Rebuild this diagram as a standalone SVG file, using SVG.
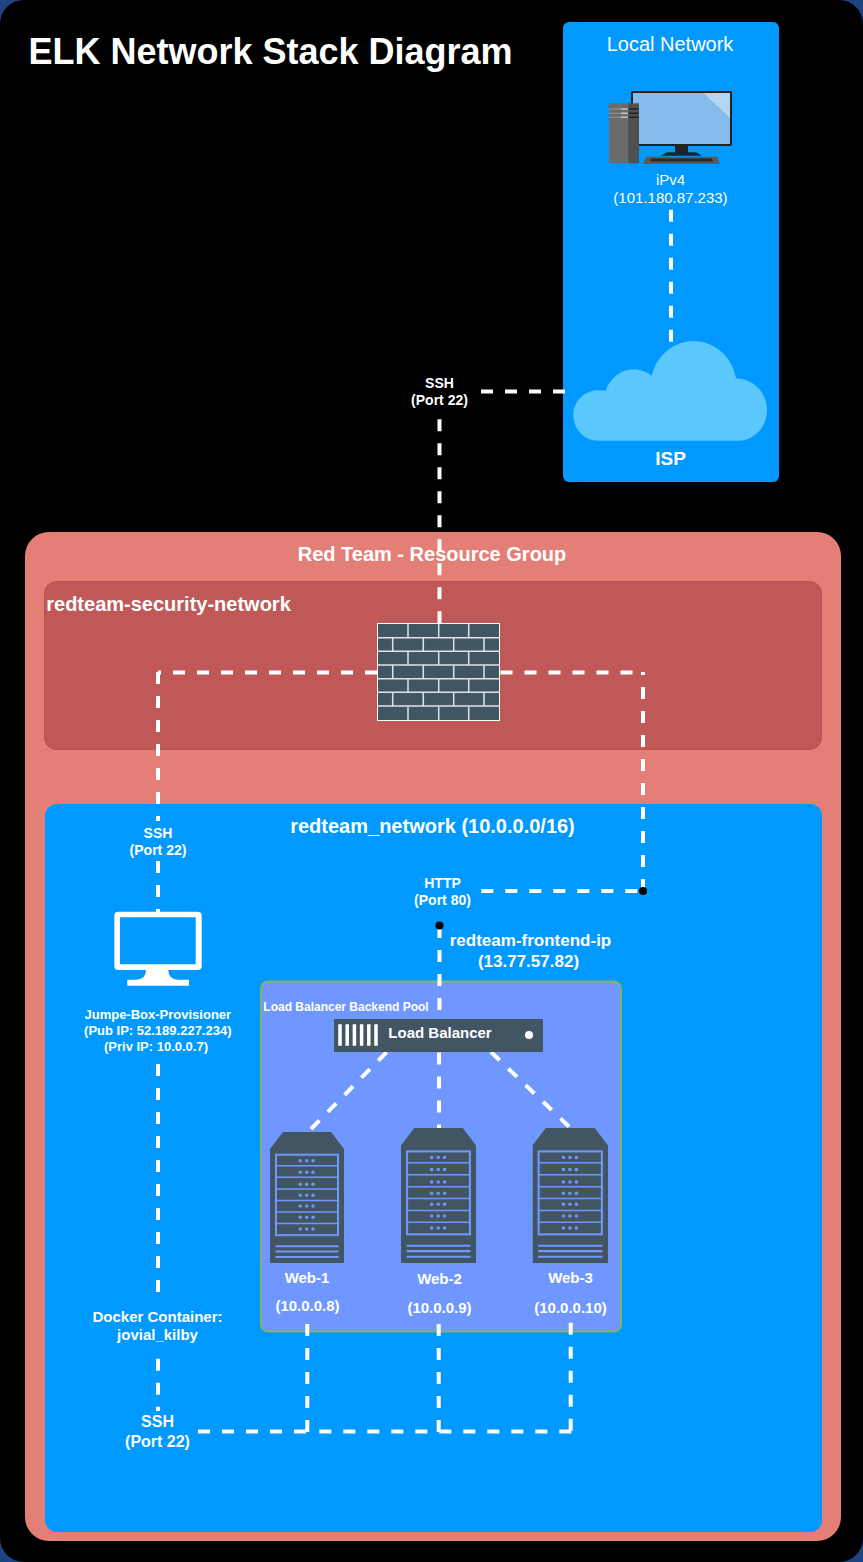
<svg xmlns="http://www.w3.org/2000/svg" width="863" height="1562" viewBox="0 0 863 1562">
<style>
text{font-family:"Liberation Sans",Arial,sans-serif;fill:#fff;text-anchor:middle}
.b{font-weight:bold}
.dash{fill:none;stroke:#fff;stroke-width:4;stroke-dasharray:12 12}
.dot{fill:#000}
</style>
<defs>
<symbol id="srv" viewBox="0 0 74 131" preserveAspectRatio="none">
<path d="M0 17L13 0H61L74 17V131H0Z" fill="#425563"/>
<rect x="6" y="22.700" width="62" height="80.500" fill="none" stroke="#7097ff" stroke-width="2"/>
<path d="M6 33.700H68M6 45.300H68M6 57H68M6 68.500H68M6 80H68M6 91.500H68" fill="none" stroke="#7097ff" stroke-width="1.500"/>
<path d="M5.500 114.300H68.500M5.500 119.500H68.500M5.500 125H68.500" stroke="#7097ff" stroke-width="2"/>
<g fill="#7097ff">
<circle cx="30.300" cy="28.700" r="1.700"/><circle cx="36.700" cy="28.700" r="1.700"/><circle cx="43" cy="28.700" r="1.700"/>
<circle cx="30.300" cy="40.300" r="1.700"/><circle cx="36.700" cy="40.300" r="1.700"/><circle cx="43" cy="40.300" r="1.700"/>
<circle cx="30.300" cy="52.300" r="1.700"/><circle cx="36.700" cy="52.300" r="1.700"/><circle cx="43" cy="52.300" r="1.700"/>
<circle cx="30.300" cy="63.300" r="1.700"/><circle cx="36.700" cy="63.300" r="1.700"/><circle cx="43" cy="63.300" r="1.700"/>
<circle cx="30.300" cy="74" r="1.700"/><circle cx="36.700" cy="74" r="1.700"/><circle cx="43" cy="74" r="1.700"/>
<circle cx="30.300" cy="85.300" r="1.700"/><circle cx="36.700" cy="85.300" r="1.700"/><circle cx="43" cy="85.300" r="1.700"/>
<circle cx="30.300" cy="97" r="1.700"/><circle cx="36.700" cy="97" r="1.700"/><circle cx="43" cy="97" r="1.700"/>
</g>
</symbol>
</defs>
<rect width="863" height="1562" fill="#1d4380"/>
<rect id="background" x="0" y="0" width="863" height="1562" rx="24" fill="#000"/>
<text class="b" x="270.500" y="64" font-size="36">ELK Network Stack Diagram</text>
<g id="local-network">
<rect x="563" y="22" width="216" height="460" rx="6" fill="#0099ff"/>
<text x="670" y="51" font-size="20">Local Network</text>
</g>
<g id="resource-group">
<rect x="25" y="532" width="816" height="1009" rx="24" fill="#e47f77"/>
<text class="b" x="432" y="561" font-size="20">Red Team - Resource Group</text>
</g>
<g id="security-network">
<rect x="44.500" y="581.500" width="777" height="168" rx="12" fill="#c05858" stroke="#b85050"/>
<text class="b" x="168.500" y="611" font-size="20">redteam-security-network</text>
</g>
<g id="redteam-network">
<rect x="45" y="804" width="777" height="728" rx="12" fill="#0099ff"/>
<text class="b" x="432.500" y="833" font-size="20">redteam_network (10.0.0.0/16)</text>
</g>
<g id="backend-pool">
<rect x="261" y="981.500" width="360" height="350" rx="7" fill="#7097ff" stroke="#82b366" stroke-width="2"/>
<text class="b" x="346" y="1011" font-size="12">Load Balancer Backend Pool</text>
</g>
<g id="connectors">
<path class="dash" d="M671 209.700V342"/>
<path class="dash" d="M565 391.500H481"/>
<path class="dash" d="M439.500 419.300V623"/>
<path class="dash" d="M377 672.500H158"/>
<path class="dash" d="M158 672V821"/>
<path class="dash" d="M158 861V912"/>
<path class="dash" d="M500.500 672.500H643"/>
<path class="dash" d="M643 891V672"/>
<path class="dash" d="M481.300 891H643"/>
<path class="dash" d="M439.500 926V1019"/>
<path class="dash" d="M158 1064V1294"/>
<path class="dash" d="M158 1358.700V1411"/>
<path class="dash" d="M386.700 1052L310.500 1129.500"/>
<path class="dash" d="M439 1052.500V1128.500"/>
<path class="dash" d="M491 1052L570 1127.500"/>
<path class="dash" d="M198 1431.500H307.300"/>
<path class="dash" d="M319.300 1431.500H572.700"/>
<path class="dash" d="M307.300 1324V1433"/>
<path class="dash" d="M438.700 1324V1433"/>
<path class="dash" d="M570.700 1322.700V1433"/>
<circle class="dot" cx="643" cy="891" r="4"/>
<circle class="dot" cx="439.500" cy="925.500" r="4"/>
</g>
<g id="computer">
<rect x="632" y="92" width="99" height="53" rx="1" fill="#84bbea" stroke="#222" stroke-width="2"/>
<path d="M703.300 93H730V118Z" fill="#b4d5f1"/>
<path d="M675 146H688V152.300H696L702 155.700H661L667 152.300H675Z" fill="#222"/>
<path d="M646 156.700H717L720 164H643.300Z" fill="#5a5a5a"/>
<path d="M651 158.500H712L713 161.500H650Z" fill="#2b2b2b"/>
<rect x="609" y="103.300" width="19.300" height="60" fill="#6b6b6b"/>
<rect x="628.300" y="103.300" width="10.700" height="60" fill="#505050"/>
<path d="M621 109H628.300M621 113.300H628.300M621 117.300H628.300" stroke="#c4c4c4" stroke-width="1.500"/>
<path d="M609 109H621M609 113.300H621M609 117.300H621" stroke="#8a8a8a" stroke-width="1.300"/>
<path d="M628.300 109H638.500M628.300 113.300H638.500M628.300 117.300H638.500" stroke="#222" stroke-width="1.500"/>
<text x="670.500" y="185" font-size="15">iPv4</text>
<text x="670.500" y="203" font-size="15">(101.180.87.233)</text>
</g>
<g id="isp">
<path d="M598 440.700C584 440.700 573.300 429 573.300 415C573.300 401 585 390.300 598 390.300Q602 390.300 605.700 390.700C610 378 621 369.300 633.300 369.300C640 369.300 647 372 651.700 375.700C657 355 674 341 693.300 341C714 341 732 356 736 378.300C754 379 767 393 767 410C767 427 754 440.700 738 440.700Z" fill="#5ac8fa"/>
<text class="b" x="670.500" y="465" font-size="19">ISP</text>
</g>
<g id="ssh-top"><text class="b" x="439.500" y="388" font-size="14">SSH</text><text class="b" x="439.500" y="405" font-size="14">(Port 22)</text></g>
<g id="firewall">
<rect x="377.500" y="623.500" width="122" height="97" fill="#425563" stroke="#fff"/>
<path d="M378 637.700H499M378 651.300H499M378 665H499M378 678.700H499M378 692.300H499M378 706H499M408 624V637M438.700 624V637M468.700 624V637M392.700 638V651M423.300 638V651M453.700 638V651M484 638V651M408 652V665M438.700 652V665M468.700 652V665M392.700 665V679M423.300 665V679M453.700 665V679M484 665V679M408 679V692M438.700 679V692M468.700 679V692M392.700 693V706M423.300 693V706M453.700 693V706M484 693V706M408 707V720M438.700 707V720M468.700 707V720" stroke="#dfe3e6" stroke-width="1.500" fill="none"/>
</g>
<g id="ssh-jump"><text class="b" x="158" y="838" font-size="14">SSH</text><text class="b" x="158" y="855" font-size="14">(Port 22)</text></g>
<g id="http"><text class="b" x="442.500" y="888" font-size="14">HTTP</text><text class="b" x="442.500" y="905" font-size="14">(Port 80)</text></g>
<g id="frontend-ip"><text class="b" x="530.500" y="946" font-size="17">redteam-frontend-ip</text><text class="b" x="528.500" y="967" font-size="17">(13.77.57.82)</text></g>
<g id="jump-box">
<path fill-rule="evenodd" fill="#fff" d="M118.300 911.700H197.700Q201.700 911.700 201.700 915.700V966Q201.700 970 197.700 970H168.300Q168.500 979.500 178 979.800H189V985.700H127.300V979.800H136Q146 979.500 146 970H118.300Q114.300 970 114.300 966V915.700Q114.300 911.700 118.300 911.700ZM120 917.300V964.300H195.700V917.300Z"/>
<text class="b" x="157.800" y="1019" font-size="13">Jumpe-Box-Provisioner</text>
<text class="b" x="157.800" y="1035" font-size="13">(Pub IP: 52.189.227.234)</text>
<text class="b" x="156" y="1051" font-size="13">(Priv IP: 10.0.0.7)</text>
</g>
<g id="load-balancer">
<rect x="334" y="1019" width="209" height="33" fill="#425563"/>
<path d="M340 1024.300V1045.700M347.200 1024.300V1045.700M354.400 1024.300V1045.700M361.600 1024.300V1045.700M368.800 1024.300V1045.700M376 1024.300V1045.700" stroke="#fff" stroke-width="3.500"/>
<circle cx="529" cy="1035" r="4" fill="#fff"/>
<text class="b" x="440" y="1038" font-size="15">Load Balancer</text>
</g>
<g id="web-1"><use href="#srv" x="270" y="1132" width="74" height="131"/>
<text class="b" x="307" y="1283" font-size="15">Web-1</text><text class="b" x="307.500" y="1311" font-size="15">(10.0.0.8)</text></g>
<g id="web-2"><use href="#srv" x="401" y="1128" width="75" height="135"/>
<text class="b" x="439.500" y="1284" font-size="15">Web-2</text><text class="b" x="439.500" y="1313" font-size="15">(10.0.0.9)</text></g>
<g id="web-3"><use href="#srv" x="532.500" y="1128" width="75.500" height="135"/>
<text class="b" x="570.500" y="1283" font-size="15">Web-3</text><text class="b" x="570.500" y="1312.500" font-size="15">(10.0.0.10)</text></g>
<g id="docker"><text class="b" x="157.500" y="1322" font-size="15">Docker Container:</text><text class="b" x="157.500" y="1340" font-size="15">jovial_kilby</text></g>
<g id="ssh-bottom"><text class="b" x="157.500" y="1426.500" font-size="16">SSH</text><text class="b" x="157.500" y="1447" font-size="16">(Port 22)</text></g>
</svg>
